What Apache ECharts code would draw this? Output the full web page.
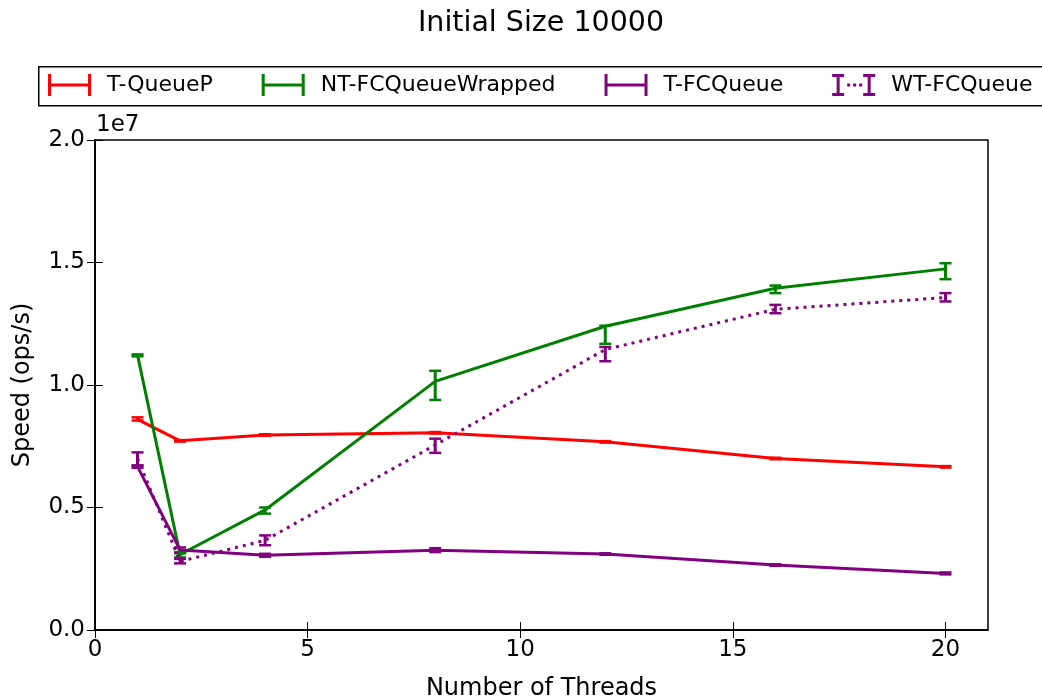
<!DOCTYPE html>
<html>
<head>
<meta charset="utf-8">
<script src="https://cdn.jsdelivr.net/npm/echarts@6/dist/echarts.min.js"></script>
<style>
html,body{margin:0;padding:0;background:#fff;}
#chart{width:1042px;height:698px;}
</style>
</head>
<body>
<div id="chart"></div>
<script>
// ---- data ----
const threads = [1, 2, 4, 8, 12, 16, 20];
const seriesNames = ['T-QueueP', 'NT-FCQueueWrapped', 'T-FCQueue', 'WT-FCQueue'];

const tQueueP      = [8.60e6, 7.72e6, 7.96e6, 8.05e6, 7.68e6, 7.00e6, 6.66e6];
const tQueuePLow   = [0.05e6, 0.03e6, 0.03e6, 0.03e6, 0.03e6, 0.03e6, 0.03e6];
const tQueuePHigh  = [0.08e6, 0.03e6, 0.03e6, 0.03e6, 0.03e6, 0.03e6, 0.03e6];

const ntFCWrapped     = [11.22e6, 3.08e6, 4.90e6, 10.15e6, 12.40e6, 13.95e6, 14.74e6];
const ntFCWrappedLow  = [0.05e6, 0.12e6, 0.15e6, 0.76e6, 0.72e6, 0.20e6, 0.42e6];
const ntFCWrappedHigh = [0.03e6, 0.05e6, 0.10e6, 0.43e6, 0.02e6, 0.11e6, 0.23e6];

const tFCQueue     = [6.67e6, 3.27e6, 3.05e6, 3.26e6, 3.10e6, 2.65e6, 2.31e6];
const tFCQueueLow  = [0.05e6, 0.10e6, 0.06e6, 0.08e6, 0.03e6, 0.03e6, 0.04e6];
const tFCQueueHigh = [0.05e6, 0.10e6, 0.06e6, 0.08e6, 0.03e6, 0.03e6, 0.04e6];

const wtFCQueue     = [7.00e6, 2.80e6, 3.66e6, 7.55e6, 11.45e6, 13.09e6, 13.57e6];
const wtFCQueueLow  = [0.30e6, 0.08e6, 0.20e6, 0.32e6, 0.48e6, 0.16e6, 0.16e6];
const wtFCQueueHigh = [0.25e6, 0.10e6, 0.20e6, 0.26e6, 0.10e6, 0.18e6, 0.18e6];

const yTicks = [0, 5e6, 10e6, 15e6, 20e6];
const xTicks = [0, 5, 10, 15, 20];

// ---- chart ----
const FONT = 'DejaVu Sans';
const RED = '#ff0000', GREEN = '#008000', PURPLE = '#800080';

function pts(vals) { return threads.map((t, i) => [t, vals[i]]); }
function errPts(vals, lo, hi) { return threads.map((t, i) => [t, vals[i] - lo[i], vals[i] + hi[i]]); }

function errRender(color) {
  return function (params, api) {
    const x = api.value(0), lo = api.value(1), hi = api.value(2);
    const pLo = api.coord([x, lo]);
    const pHi = api.coord([x, hi]);
    const cw = 6;
    return {
      type: 'group',
      children: [
        { type: 'line', shape: { x1: pLo[0], y1: pLo[1], x2: pHi[0], y2: pHi[1] }, style: { stroke: color, lineWidth: 3 } },
        { type: 'line', shape: { x1: pLo[0] - cw, y1: pLo[1], x2: pLo[0] + cw, y2: pLo[1] }, style: { stroke: color, lineWidth: 2.5 } },
        { type: 'line', shape: { x1: pHi[0] - cw, y1: pHi[1], x2: pHi[0] + cw, y2: pHi[1] }, style: { stroke: color, lineWidth: 2.5 } }
      ]
    };
  };
}

function lineSeries(name, vals, color, dotted) {
  return {
    name: name, type: 'line', data: pts(vals), showSymbol: false, symbol: 'none',
    itemStyle: { color: color },
    lineStyle: { color: color, width: 3, type: dotted ? [3, 5] : 'solid' },
    animation: false, z: 3
  };
}
function errSeries(name, vals, lo, hi, color) {
  return {
    name: name + '_err', type: 'custom', data: errPts(vals, lo, hi),
    renderItem: errRender(color), animation: false, z: 3,
    encode: { x: 0, y: [1, 2] }
  };
}

const H_ICON = 'path://M0,0h3v22h-3z M3,9.5h37v3h-37z M40,0h3v22h-3z';
const I_ICON = 'path://M0,0h12v3h-12z M4.5,0h3v22h-3z M0,19h12v3h-12z M15,9.5h3v3h-3z M21,9.5h3v3h-3z M27,9.5h3v3h-3z M31,0h12v3h-12z M35.5,0h3v22h-3z M31,19h12v3h-12z';

const chart = echarts.init(document.getElementById('chart'), null, { renderer: 'canvas' });

const option = {
  backgroundColor: '#fff',
  animation: false,
  title: {
    text: 'Initial Size 10000',
    left: 536, top: 4, textAlign: 'center',
    textStyle: { fontFamily: FONT, fontSize: 28.5, fontWeight: 'normal', color: '#000' }
  },
  legend: {
    left: 38, top: 66,
    padding: [8, 0, 8, 10],
    itemWidth: 43, itemHeight: 22, itemGap: 49,
    textStyle: { fontFamily: FONT, fontSize: 22, color: '#000', padding: [0, 0, 0, 11] },
    data: [
      { name: seriesNames[0], icon: H_ICON, itemStyle: { color: RED } },
      { name: seriesNames[1], icon: H_ICON, itemStyle: { color: GREEN } },
      { name: seriesNames[2], icon: H_ICON, itemStyle: { color: PURPLE } },
      { name: seriesNames[3], icon: I_ICON, itemStyle: { color: PURPLE } }
    ]
  },
  grid: {
    left: 95, right: 54, top: 140, bottom: 68,
    outerBoundsMode: 'none', containLabel: false,
    show: true, borderColor: '#000', borderWidth: 1.5, backgroundColor: 'transparent'
  },
  graphic: [
    { type: 'rect', left: 38, top: 66, shape: { width: 1020, height: 39 }, style: { fill: 'transparent', stroke: '#000', lineWidth: 1.5 }, z: 100 },
    { type: 'text', left: 96, top: 114, style: { text: '1e7', font: '23px "DejaVu Sans"', fill: '#000' } }
  ],
  xAxis: [
    {
      type: 'value', min: 0, max: 21, interval: 5,
      name: 'Number of Threads', nameLocation: 'middle', nameGap: 47,
      nameTextStyle: { fontFamily: FONT, fontSize: 24, color: '#000' },
      axisLine: { show: true, onZero: false, lineStyle: { color: '#000', width: 1.5 } },
      axisTick: { show: true, inside: true, length: 8, customValues: xTicks, lineStyle: { color: '#000' } },
      axisLabel: {
        fontFamily: FONT, fontSize: 23, color: '#000', margin: 9, customValues: xTicks,
        formatter: v => String(v)
      },
      splitLine: { show: false }
    },
    {
      type: 'value', min: 0, max: 21, interval: 5, position: 'top',
      axisLine: { show: true, lineStyle: { color: '#000', width: 1.5 } },
      axisTick: { show: true, inside: true, length: 8, customValues: xTicks, lineStyle: { color: '#000' } },
      axisLabel: { show: false }, splitLine: { show: false }
    }
  ],
  yAxis: [
    {
      type: 'value', min: 0, max: 2e7, interval: 5e6,
      name: 'Speed (ops/s)', nameLocation: 'middle', nameGap: 60,
      nameTextStyle: { fontFamily: FONT, fontSize: 24, color: '#000' },
      axisLine: { show: true, onZero: false, lineStyle: { color: '#000', width: 1.5 } },
      axisTick: { show: true, inside: true, length: 8, customValues: yTicks, lineStyle: { color: '#000' } },
      axisLabel: {
        fontFamily: FONT, fontSize: 23, color: '#000', margin: 10, customValues: yTicks,
        formatter: v => (v / 1e7).toFixed(1)
      },
      splitLine: { show: false }
    },
    {
      type: 'value', min: 0, max: 2e7, interval: 5e6, position: 'right',
      axisLine: { show: true, lineStyle: { color: '#000', width: 1.5 } },
      axisTick: { show: true, inside: true, length: 8, customValues: yTicks, lineStyle: { color: '#000' } },
      axisLabel: { show: false }, splitLine: { show: false }
    }
  ],
  series: [
    lineSeries(seriesNames[0], tQueueP, RED, false),
    errSeries(seriesNames[0], tQueueP, tQueuePLow, tQueuePHigh, RED),
    lineSeries(seriesNames[1], ntFCWrapped, GREEN, false),
    errSeries(seriesNames[1], ntFCWrapped, ntFCWrappedLow, ntFCWrappedHigh, GREEN),
    lineSeries(seriesNames[2], tFCQueue, PURPLE, false),
    errSeries(seriesNames[2], tFCQueue, tFCQueueLow, tFCQueueHigh, PURPLE),
    lineSeries(seriesNames[3], wtFCQueue, PURPLE, true),
    errSeries(seriesNames[3], wtFCQueue, wtFCQueueLow, wtFCQueueHigh, PURPLE)
  ]
};
chart.setOption(option);
</script>
</body>
</html>
